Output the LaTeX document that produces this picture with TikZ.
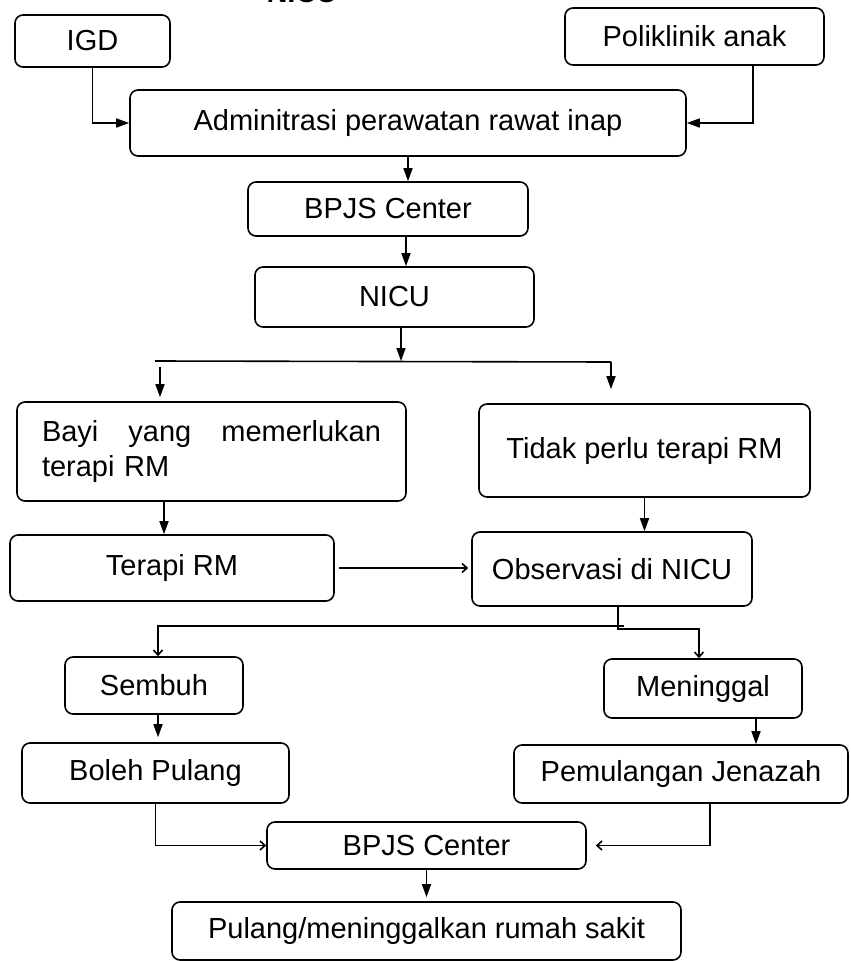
\documentclass[tikz,border=0pt]{standalone}
\usepackage{fontspec}
\setmainfont{Liberation Sans}
\usetikzlibrary{arrows.meta}

\begin{document}
\begin{tikzpicture}[x=1pt,y=-1pt,
  every node/.style={font=\fontsize{29}{35}\selectfont},
  box/.style={draw, line width=1.6pt, rounded corners=8pt, inner sep=0pt, align=center},
  arr/.style={line width=1.6pt, -{Triangle[length=13pt,width=9pt]}},
  thin arr/.style={line width=1.6pt, -{Straight Barb[length=5pt,width=9pt]}}]
\useasboundingbox (0,0) rectangle (851,961);
% title, cut off at the top edge
\node[font=\bfseries\fontsize{29}{35}\selectfont, anchor=base] (title) at (302,2) {NICU};

\node[box, minimum width=155pt, minimum height=52pt] (igd) at (92.5,41) {IGD};
\node[box, minimum width=259pt, minimum height=57pt] (poli) at (694.5,36.5) {Poliklinik anak};
\node[box, minimum width=556pt, minimum height=66pt] (admin) at (408,123) {Adminitrasi perawatan rawat inap};
\node[box, minimum width=280pt, minimum height=54pt] (bpjs1) at (388,209) {BPJS Center};
\node[box, minimum width=279pt, minimum height=60pt] (nicu) at (394.5,297) {NICU};
\node[box, align=left, text width=339pt, inner xsep=25pt, minimum height=99pt] (bayi) at (211.5,451.5)
  {Bayi\hfill{} yang\hfill{} memerlukan\\terapi RM};
\node[box, minimum width=331pt, minimum height=93pt] (tidak) at (644.5,450.5) {Tidak perlu terapi RM};
\node[box, minimum width=324pt, minimum height=66pt] (terapi) at (172,568) {Terapi RM};
\node[box, minimum width=280pt, minimum height=74pt] (obs) at (612,569) {Observasi di NICU};
\node[box, minimum width=178pt, minimum height=57pt] (sembuh) at (154,685.5) {Sembuh};
\node[box, minimum width=198pt, minimum height=59pt] (mati) at (703,688.5) {Meninggal};
\node[box, minimum width=267pt, minimum height=60pt] (boleh) at (155.5,773) {Boleh Pulang};
\node[box, minimum width=334pt, minimum height=58pt] (jenazah) at (681,774) {Pemulangan Jenazah};
\node[box, minimum width=319pt, minimum height=47pt] (bpjs2) at (426.5,845.5) {BPJS Center};
\node[box, minimum width=509pt, minimum height=58pt] (pulang) at (426.5,931) {Pulang/meninggalkan rumah sakit};

\coordinate (splitL) at (155,361);
\coordinate (splitR) at (611,362);
\coordinate (dropL) at (160,367);

% entry
\draw[arr] (igd.south) |- (admin.west);
\draw[arr] ([xshift=58.5pt]poli.south) |- (admin.east);
\draw[arr] (admin.south) -- (admin.south |- bpjs1.north);
\draw[arr] ([xshift=18pt]bpjs1.south) -- ([xshift=18pt]bpjs1.south |- nicu.north);
\draw[arr] ([xshift=6.5pt]nicu.south) -- ([xshift=6.5pt]nicu.south |- splitL);
% split
\draw[line width=1.6pt] (splitL) -- (splitR);
\draw[arr, shorten >=4pt] (dropL) -- (dropL |- bayi.north);
\draw[arr, shorten >=14pt] (splitR) -- (splitR |- tidak.north);
\draw[arr] ([xshift=-47.5pt]bayi.south) -- ([xshift=-8pt]terapi.north);
\draw[arr] (tidak.south) -- (tidak.south |- obs.north);
\draw[thin arr, shorten <=4pt, shorten >=3pt] (terapi.east) -- (terapi.east -| obs.west);
% outcome
\draw[thin arr] ([xshift=6pt]obs.south) -- ++(0,22) -| ([xshift=-4pt]mati.north);
\draw[thin arr] ([xshift=12pt,yshift=-19pt]obs.south) -| ([xshift=4pt]sembuh.north);
\draw[arr, shorten >=5pt] ([xshift=4pt]sembuh.south) -- ([xshift=4pt]sembuh.south |- boleh.north);
\draw[arr] ([xshift=53pt]mati.south) -- ([xshift=53pt]mati.south |- jenazah.north);
% exit
\draw[thin arr] (boleh.south) |- (bpjs2.west);
\draw[thin arr, shorten >=9pt] ([xshift=29pt]jenazah.south) |- (bpjs2.east);
\draw[arr, shorten >=4pt] (bpjs2.south) -- (pulang.north);
\end{tikzpicture}
\end{document}
